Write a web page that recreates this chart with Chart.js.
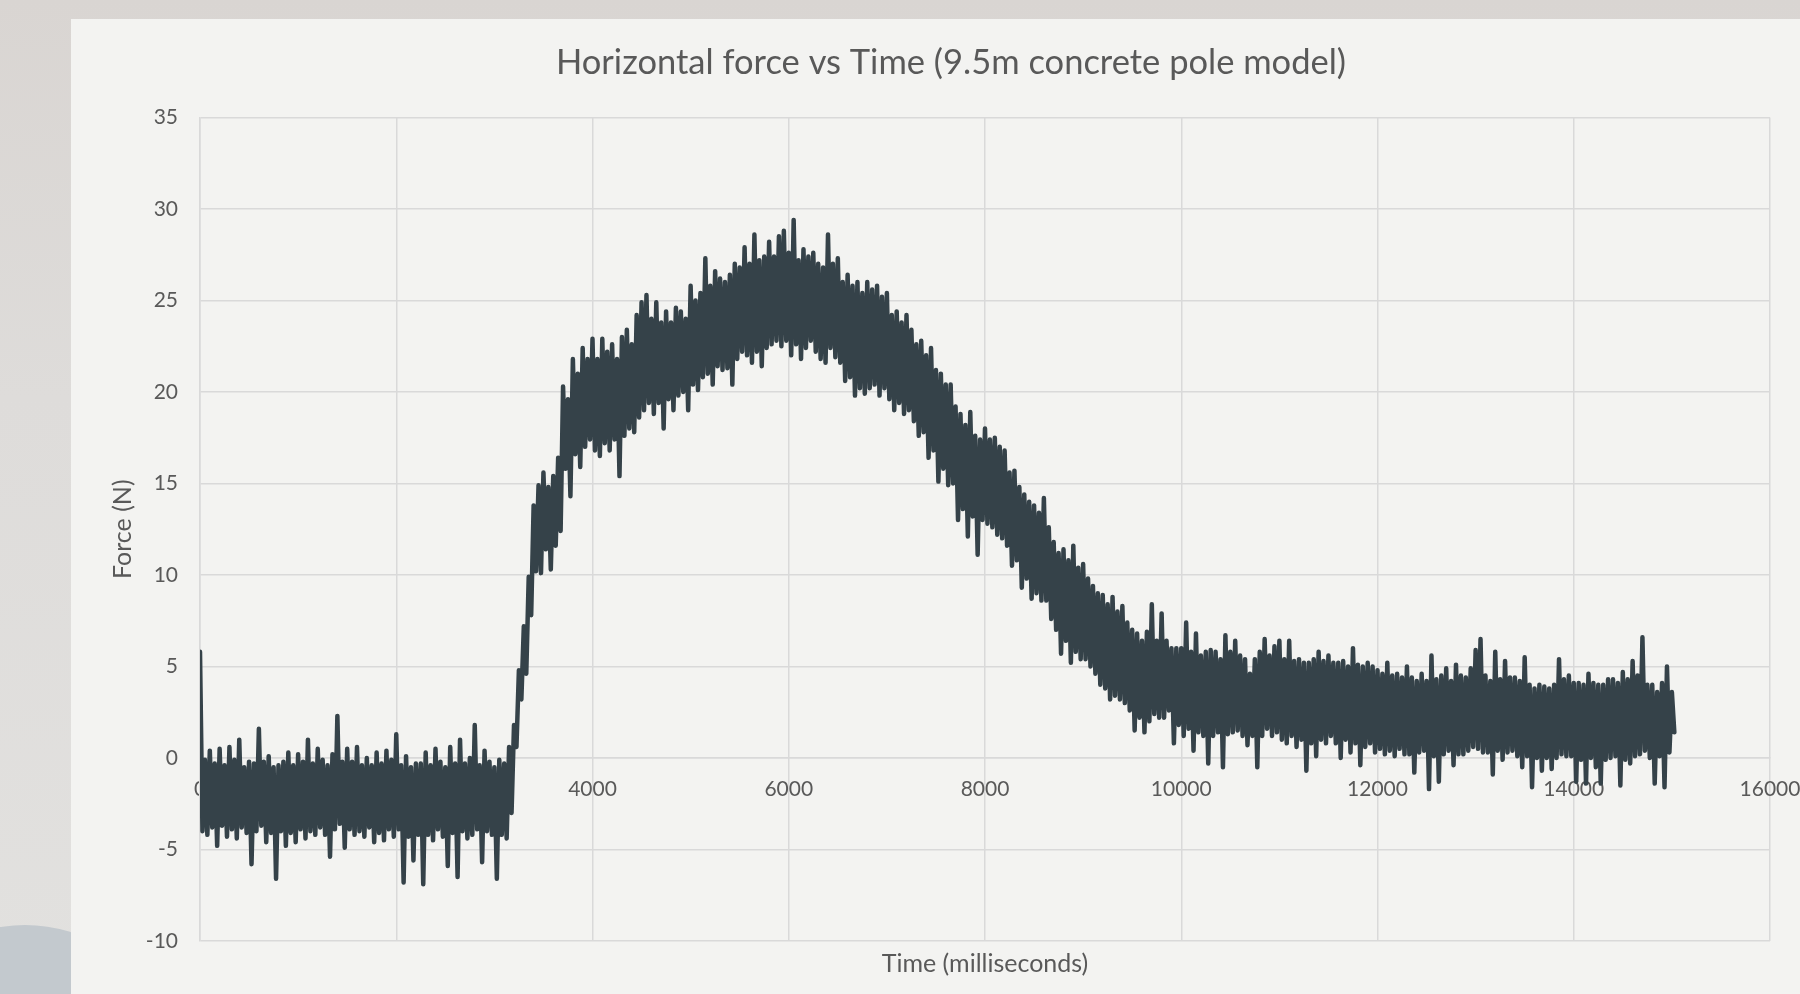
<!DOCTYPE html>
<html>
<head>
<meta charset="utf-8">
<title>Horizontal force vs Time</title>
<script src="https://cdn.jsdelivr.net/npm/chart.js@4.4.0/dist/chart.umd.min.js"></script>
<style>
  html, body { margin: 0; padding: 0; }
  body {
    width: 1800px; height: 994px; overflow: hidden; position: relative;
    background: linear-gradient(180deg, #d9d5d2 0%, #dedcda 40%, #e2e1df 100%);
  }
  .blob {
    position: absolute; left: -90px; top: 925px; width: 230px; height: 170px;
    border-radius: 50%; background: #c3c9ce;
  }
  .panel {
    position: absolute; left: 71px; top: 19px; width: 1760px; height: 975px;
    background: #f3f3f1;
  }
  canvas { display: block; }
</style>
</head>
<body>
<div class="blob"></div>
<div class="panel"><canvas id="myChart" width="1760" height="975"></canvas></div>
<script>
  // force readings in newtons, one every 25 ms, split by phase
  const forceBaseline = [ // 0 - 3175 ms
    5.8, -4.0, -0.1, -4.2, 0.4, -3.8, -0.3, -4.8, 0.5, -3.7,
    -0.4, -4.3, 0.6, -3.9, -0.1, -4.4, 1.0, -3.8, -0.5, -4.1,
    -0.2, -5.8, -0.3, -4.0, 1.6, -3.7, -0.2, -4.6, 0.1, -4.1,
    -0.5, -6.6, -0.4, -4.0, -0.2, -4.8, 0.3, -4.1, -0.4, -4.6,
    0.2, -3.9, -0.2, -4.4, 1.0, -4.0, -0.3, -4.2, 0.5, -3.8,
    -0.1, -4.2, -0.4, -5.4, 0.2, -3.9, 2.3, -3.6, -0.2, -4.9,
    0.5, -3.9, -0.2, -4.2, 0.6, -4.0, -0.4, -4.3, 0.0, -3.8,
    -0.4, -4.6, 0.3, -4.1, -0.3, -4.5, 0.4, -3.9, -0.1, -4.3,
    1.3, -3.9, -0.4, -6.8, 0.1, -4.3, -0.5, -5.6, -0.3, -4.2,
    -0.3, -6.9, 0.3, -4.2, -0.4, -4.5, 0.5, -3.9, -0.2, -4.3,
    -0.5, -5.9, 0.6, -4.1, -0.3, -6.5, 1.0, -4.0, -0.3, -4.4,
    0.0, -4.2, 1.8, -3.9, -0.4, -5.7, 0.4, -4.0, -0.2, -4.2,
    -0.5, -6.6, -0.1, -4.2, -0.3, -4.4, 0.6, -3.0
  ];
  const forceRise = [ // 3200 - 7025 ms
    1.8, 0.6, 4.8, 3.2, 7.2, 4.6, 9.9, 7.8, 13.8, 10.2,
    14.9, 10.1, 15.6, 11.4, 14.8, 10.3, 15.4, 11.6, 16.4, 12.4,
    20.3, 15.8, 19.6, 14.3, 21.8, 16.6, 21.0, 15.9, 22.4, 17.0,
    21.8, 17.4, 22.9, 16.8, 21.8, 16.5, 22.9, 17.2, 22.2, 16.8,
    22.6, 17.4, 21.8, 15.4, 23.0, 17.6, 23.4, 18.0, 22.6, 17.8,
    24.2, 18.6, 24.9, 19.0, 25.3, 19.4, 24.0, 18.8, 24.9, 19.4,
    23.8, 18.0, 24.4, 19.6, 23.8, 19.0, 24.6, 19.8, 24.4, 20.0,
    24.0, 19.0, 25.8, 20.4, 25.0, 20.1, 25.4, 20.8, 27.3, 21.0,
    25.8, 20.4, 26.6, 21.4, 26.2, 21.2, 26.0, 21.3, 26.4, 20.4,
    27.0, 21.8, 26.8, 22.2, 27.9, 22.0, 27.0, 21.6, 28.6, 22.2,
    27.2, 21.4, 27.4, 22.4, 28.2, 22.6, 27.4, 22.8, 28.5, 22.5,
    28.8, 22.8, 27.6, 22.0, 29.4, 22.6, 27.2, 21.8, 27.8, 22.4,
    27.4, 22.8, 27.6, 22.2, 27.0, 21.8, 26.8, 21.6, 28.6, 22.4,
    27.0, 21.9, 27.3, 21.6, 26.0, 20.6, 26.4, 20.8, 25.8, 19.8,
    26.0, 20.2, 25.4, 19.9, 26.0, 20.2, 25.6, 20.4, 25.8, 19.8,
    25.2, 20.2, 25.4, 19.6
  ];
  const forceDecline = [ // 7050 - 9575 ms
    24.2, 19.0, 24.4, 19.4, 23.8, 18.8, 24.2, 19.0, 23.4, 18.4,
    22.6, 17.6, 22.8, 17.8, 22.0, 16.4, 22.4, 16.8, 21.2, 15.1,
    21.0, 15.8, 20.4, 14.9, 20.4, 15.0, 19.2, 13.0, 18.8, 13.6,
    18.2, 12.1, 18.9, 13.2, 17.6, 11.1, 17.4, 13.0, 18.0, 12.8,
    17.4, 12.6, 17.5, 12.2, 17.0, 12.0, 16.8, 11.6, 15.6, 10.5,
    15.7, 10.8, 14.8, 9.3, 14.4, 9.8, 14.0, 8.7, 13.8, 9.0,
    13.4, 8.6, 14.2, 8.6, 12.6, 7.6, 11.8, 7.0, 11.2, 5.7,
    11.4, 6.4, 10.8, 5.2, 11.6, 5.8, 10.4, 5.4, 10.6, 5.4,
    9.8, 5.0, 9.4, 4.6, 9.0, 4.0, 8.9, 3.8, 8.4, 3.2,
    8.8, 3.4, 8.0, 3.2, 8.3, 3.0, 7.4, 2.6, 7.0, 1.5,
    6.8, 2.2
  ];
  const forceTail = [ // 9600 - 12025 ms
    6.4, 1.4, 6.9, 2.0, 8.4, 2.4, 6.4, 2.2, 7.9, 2.2,
    6.4, 2.6, 6.0, 0.8, 6.0, 1.8, 6.0, 1.2, 7.4, 1.6,
    5.8, 0.4, 6.8, 1.4, 5.6, 1.2, 5.8, -0.3, 5.9, 1.2,
    5.8, 1.4, 5.4, -0.5, 6.7, 1.3, 5.8, 1.4, 6.4, 1.5,
    5.6, 1.2, 5.4, 0.7, 4.6, 1.2, 5.4, -0.5, 5.8, 1.2,
    6.5, 1.6, 5.6, 1.2, 6.1, 1.4, 6.4, 1.0, 5.4, 0.8,
    6.4, 1.2, 5.3, 0.6, 5.4, 1.0, 5.2, -0.7, 5.2, 0.8,
    5.4, 0.1, 5.8, 1.0, 5.3, 0.8, 5.6, 1.2, 5.2, 0.8,
    5.2, 0.0, 5.3, 1.0, 5.0, 0.3, 6.0, 0.8, 5.1, -0.4,
    5.0, 0.6, 5.2, 0.8, 5.0, 0.3, 4.8, 0.5
  ];
  const forceEnd = [ // 12050 - 15025 ms
    4.6, 0.2, 5.2, 0.4, 4.5, 0.1, 4.6, 0.5, 4.4, 0.2,
    5.0, 0.2, 4.4, -0.8, 4.2, 0.3, 4.6, 0.4, 4.2, -1.7,
    5.6, 0.1, 4.3, -1.3, 4.5, 0.2, 4.9, 0.4, 4.2, -0.4,
    5.1, 0.2, 4.5, 0.2, 4.4, 0.4, 4.9, 0.6, 5.9, 0.5,
    6.5, 0.3, 4.5, 0.3, 4.2, -0.9, 5.8, 0.4, 4.3, -0.1,
    5.3, 0.3, 4.4, 0.4, 4.4, 0.1, 4.2, -0.5, 5.5, 0.1,
    4.0, -1.6, 3.8, 0.0, 4.0, -0.7, 3.9, 0.0, 3.8, -0.6,
    4.0, 0.0, 5.4, 0.2, 4.3, 0.1, 4.5, 0.1, 4.1, -1.3,
    4.1, -0.1, 4.0, -1.4, 4.6, 0.0, 4.1, -0.5, 4.0, -1.4,
    4.0, -0.1, 4.3, 0.0, 4.3, 0.1, 4.1, -1.5, 4.7, -0.1,
    4.3, -0.3, 5.3, 0.1, 4.5, 0.2, 6.6, 0.4, 4.0, 0.0,
    4.0, -1.4, 3.6, 0.1, 4.1, -1.6, 5.0, 0.3, 3.6, 1.4
  ];
  const sampleIntervalMs = 25;

  const xTicks = [0, 2000, 4000, 6000, 8000, 10000, 12000, 14000, 16000];
  const yTicks = [-10, -5, 0, 5, 10, 15, 20, 25, 30, 35];

  const textColor = '#595959';
  const gridColor = '#d9d9d9';
  const lineColor = '#354249';
  const fontFamily = 'Lato, "Open Sans", sans-serif';

  const forceN = [].concat(forceBaseline, forceRise, forceDecline, forceTail, forceEnd);
  const points = forceN.map((f, i) => ({ x: i * sampleIntervalMs, y: f }));

  const ctx = document.getElementById('myChart').getContext('2d');
  const chart = new Chart(ctx, {
    type: 'line',
    data: {
      datasets: [{
        label: 'Force',
        data: points,
        borderColor: lineColor,
        borderWidth: 4.5,
        borderJoinStyle: 'round',
        borderCapStyle: 'round',
        pointRadius: 0,
        tension: 0,
        fill: false
      }]
    },
    options: {
      responsive: false,
      animation: false,
      devicePixelRatio: 1,
      layout: { padding: 0 },
      plugins: {
        legend: { display: false },
        tooltip: { enabled: false },
        title: {
          display: true,
          text: 'Horizontal force vs Time (9.5m concrete pole model)',
          color: textColor,
          font: { family: fontFamily, size: 34.5, weight: 'normal' },
          padding: { top: 23, bottom: 34 }
        }
      },
      scales: {
        x: {
          type: 'linear',
          position: { y: 0 },
          min: xTicks[0],
          max: xTicks[xTicks.length - 1],
          afterBuildTicks: s => { s.ticks = xTicks.map(v => ({ value: v })); },
          // the slide clips the right part of the chart box
          afterFit: s => { s.paddingLeft = 0; s.paddingRight = 61; },
          ticks: {
            color: textColor,
            font: { family: fontFamily, size: 21 },
            padding: 19,
            maxRotation: 0,
            autoSkip: false,
            callback: v => String(v)
          },
          grid: { color: gridColor, lineWidth: 1.5, drawTicks: false },
          border: { color: gridColor, width: 1.5 }
        },
        xTitle: {
          type: 'linear',
          position: 'bottom',
          display: true,
          ticks: { display: false },
          grid: { display: false, drawTicks: false },
          border: { display: false },
          title: {
            display: true,
            text: 'Time (milliseconds)',
            color: textColor,
            font: { family: fontFamily, size: 25 },
            padding: { top: 8, bottom: 15 }
          }
        },
        y: {
          min: yTicks[0],
          max: yTicks[yTicks.length - 1],
          afterBuildTicks: s => { s.ticks = yTicks.map(v => ({ value: v })); },
          afterFit: s => { s.width = 129; },
          ticks: {
            color: textColor,
            font: { family: fontFamily, size: 21 },
            padding: 22,
            callback: v => String(v)
          },
          grid: { color: gridColor, lineWidth: 1.5, drawTicks: false },
          border: { color: gridColor, width: 1.5 },
          title: {
            display: true,
            text: 'Force (N)',
            color: textColor,
            font: { family: fontFamily, size: 25 },
            padding: { top: 37, bottom: 0 }
          }
        }
      }
    }
  });
</script>
</body>
</html>
